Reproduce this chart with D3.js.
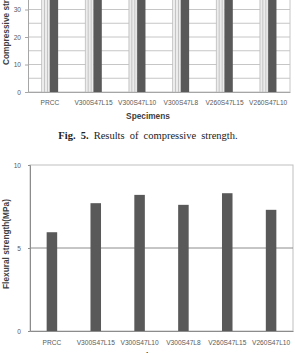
<!DOCTYPE html>
<html>
<head>
<meta charset="utf-8">
<script src="https://cdn.jsdelivr.net/npm/d3@7"></script>
<style>
  html, body { margin: 0; padding: 0; background: #fff; }
  svg { display: block; }
</style>
</head>
<body>
<div id="chart"></div>
<script>
const specimens = ['PRCC', 'V300S47L15', 'V300S47L10', 'V300S47L8', 'V260S47L15', 'V260S47L10'];

// compressive strength (top of the figure is cut off, bars run past the frame)
const compSeries = ['light', 'dark'];
const compLight = [52, 55, 57, 54, 58, 56];
const compDark = [55, 60, 62, 58, 63, 60];
const compTicks = [0, 10, 20, 30];

// flexural strength
const flexValues = [5.95, 7.7, 8.2, 7.6, 8.3, 7.3];
const flexTicks = [0, 5, 10];

const W = 295, H = 353;
const tickFont = '"Liberation Sans", Arial, sans-serif';

const svg = d3.select('#chart').append('svg')
  .attr('width', W)
  .attr('height', H);

const defs = svg.append('defs');
const pat = defs.append('pattern')
  .attr('id', 'stripes')
  .attr('patternUnits', 'userSpaceOnUse')
  .attr('width', 3)
  .attr('height', 4);
pat.append('rect').attr('width', 3).attr('height', 4).attr('fill', '#ececec');
pat.append('rect').attr('x', 1).attr('width', 1).attr('height', 4).attr('fill', '#c4c4c4');

// ---------- top chart: compressive strength ----------
const mTop = { left: 28, right: 290, bottom: 92 };
const yC = d3.scaleLinear().domain([0, 60]).range([mTop.bottom, mTop.bottom - 165]);
const xC = d3.scaleBand().domain(specimens).range([mTop.left, mTop.right]);
const xC1 = d3.scaleBand().domain(compSeries)
  .range([xC.bandwidth() / 2 - 8.3, xC.bandwidth() / 2 + 8.3]);

const gTop = svg.append('g');

gTop.selectAll('line.grid')
  .data(d3.range(0, 61, 5))
  .join('line')
  .attr('class', 'grid')
  .attr('x1', mTop.left)
  .attr('x2', mTop.right)
  .attr('y1', d => yC(d))
  .attr('y2', d => yC(d))
  .attr('stroke', '#c6c6c6')
  .attr('stroke-width', 1);

gTop.append('line')
  .attr('x1', mTop.right).attr('x2', mTop.right)
  .attr('y1', yC(60)).attr('y2', yC(0))
  .attr('stroke', '#c6c6c6');

const groups = gTop.selectAll('g.grp')
  .data(specimens)
  .join('g')
  .attr('class', 'grp')
  .attr('transform', d => `translate(${xC(d)},0)`);

groups.append('rect')
  .attr('x', xC1('light'))
  .attr('width', xC1.bandwidth())
  .attr('y', (d, i) => yC(compLight[i]))
  .attr('height', (d, i) => yC(0) - yC(compLight[i]))
  .attr('fill', 'url(#stripes)')
  .attr('stroke', '#bdbdbd')
  .attr('stroke-width', 0.6);

groups.append('rect')
  .attr('x', xC1('dark'))
  .attr('width', xC1.bandwidth())
  .attr('y', (d, i) => yC(compDark[i]))
  .attr('height', (d, i) => yC(0) - yC(compDark[i]))
  .attr('fill', '#595959');

const yAxisC = d3.axisLeft(yC).tickValues(compTicks).tickSize(3).tickPadding(4);
const gyC = gTop.append('g')
  .attr('transform', `translate(${mTop.left},0)`)
  .call(yAxisC);
gyC.select('.domain').attr('stroke', '#a6a6a6');
gyC.selectAll('.tick line').attr('stroke', '#a6a6a6');
gyC.selectAll('text')
  .style('font-family', tickFont)
  .style('font-size', '6.6px')
  .style('fill', '#595959');

const xAxisC = d3.axisBottom(xC).tickSize(0).tickPadding(8);
const gxC = gTop.append('g')
  .attr('transform', `translate(0,${mTop.bottom})`)
  .call(xAxisC);
gxC.select('.domain').attr('stroke', '#a6a6a6');
gxC.selectAll('text')
  .style('font-family', tickFont)
  .style('font-size', '6.6px')
  .style('fill', '#595959');

svg.append('text')
  .attr('transform', 'translate(9,65) rotate(-90)')
  .style('font-family', tickFont)
  .style('font-size', '8.3px')
  .style('font-weight', 'bold')
  .style('fill', '#404040')
  .text('Compressive strength(MPa)');

svg.append('text')
  .attr('x', 148)
  .attr('y', 119)
  .attr('text-anchor', 'middle')
  .style('font-family', tickFont)
  .style('font-size', '8.3px')
  .style('font-weight', 'bold')
  .style('fill', '#404040')
  .text('Specimens');

// caption
const cap = svg.append('text')
  .attr('x', 148)
  .attr('y', 138.5)
  .attr('text-anchor', 'middle')
  .style('font-family', '"Liberation Serif", "Times New Roman", serif')
  .style('font-size', '10.5px')
  .style('word-spacing', '2.5px')
  .style('fill', '#222');
cap.append('tspan').style('font-weight', 'bold').text('Fig. 5.');
cap.append('tspan').text(' Results of compressive strength.');

// ---------- bottom chart: flexural strength ----------
const mBot = { left: 30, right: 293, top: 165, bottom: 331 };
const yF = d3.scaleLinear().domain([0, 10]).range([mBot.bottom, mBot.top]);
const xF = d3.scaleBand().domain(specimens).range([mBot.left, mBot.right]).paddingInner(0.76).paddingOuter(0.38);

const gBot = svg.append('g');

gBot.append('rect')
  .attr('x', mBot.left)
  .attr('y', mBot.top)
  .attr('width', mBot.right - mBot.left)
  .attr('height', mBot.bottom - mBot.top)
  .attr('fill', 'none')
  .attr('stroke', '#bfbfbf');

gBot.selectAll('line.grid')
  .data(flexTicks.slice(1, -1))
  .join('line')
  .attr('class', 'grid')
  .attr('x1', mBot.left)
  .attr('x2', mBot.right)
  .attr('y1', d => yF(d))
  .attr('y2', d => yF(d))
  .attr('stroke', '#8c8c8c');

gBot.selectAll('rect.bar')
  .data(flexValues)
  .join('rect')
  .attr('class', 'bar')
  .attr('x', (d, i) => xF(specimens[i]))
  .attr('width', xF.bandwidth())
  .attr('y', d => yF(d))
  .attr('height', d => yF(0) - yF(d))
  .attr('fill', '#595959');

const yAxisF = d3.axisLeft(yF).tickValues(flexTicks).tickSize(2).tickPadding(7).tickFormat(d3.format('d'));
const gyF = gBot.append('g')
  .attr('transform', `translate(${mBot.left},0)`)
  .call(yAxisF);
gyF.select('.domain').attr('stroke', '#8c8c8c');
gyF.selectAll('.tick line').attr('stroke', '#8c8c8c');
gyF.selectAll('text')
  .style('font-family', tickFont)
  .style('font-size', '6.6px')
  .style('fill', '#595959');

const xAxisF = d3.axisBottom(xF).tickSize(0).tickPadding(9);
const gxF = gBot.append('g')
  .attr('transform', `translate(0,${mBot.bottom})`)
  .call(xAxisF);
gxF.select('.domain').attr('stroke', '#8c8c8c');
gxF.selectAll('text')
  .style('font-family', tickFont)
  .style('font-size', '6.6px')
  .style('fill', '#595959');

svg.append('text')
  .attr('transform', `translate(9,${(mBot.top + mBot.bottom) / 2 - 4}) rotate(-90)`)
  .attr('text-anchor', 'middle')
  .style('font-family', tickFont)
  .style('font-size', '8.3px')
  .style('font-weight', 'bold')
  .style('fill', '#404040')
  .text('Flexural strength(MPa)');

svg.append('text')
  .attr('x', 148)
  .attr('y', 359)
  .attr('text-anchor', 'middle')
  .style('font-family', tickFont)
  .style('font-size', '8.3px')
  .style('font-weight', 'bold')
  .style('fill', '#404040')
  .text('Specimens');
</script>
</body>
</html>
